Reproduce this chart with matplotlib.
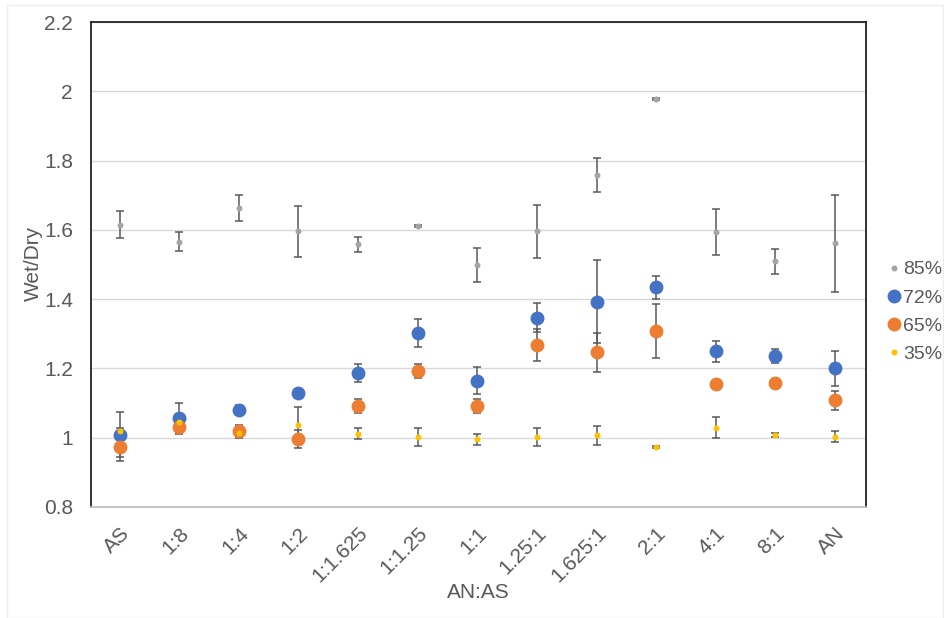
import matplotlib
matplotlib.use("Agg")
import matplotlib.pyplot as plt
from matplotlib.lines import Line2D
from matplotlib.patches import Rectangle
import numpy as np

plt.rcParams['font.family'] = ['Liberation Sans', 'DejaVu Sans']

categories = ["AS", "1:8", "1:4", "1:2", "1:1.625", "1:1.25", "1:1",
              "1.25:1", "1.625:1", "2:1", "4:1", "8:1", "AN"]

rh85 = [1.615, 1.566, 1.663, 1.596, 1.558, 1.610, 1.499, 1.596, 1.759, 1.978, 1.593, 1.509, 1.562]
rh85_err = [0.038, 0.027, 0.037, 0.073, 0.022, 0.003, 0.050, 0.077, 0.049, 0.003, 0.067, 0.037, 0.140]
rh72 = [1.009, 1.057, 1.080, 1.129, 1.187, 1.303, 1.165, 1.347, 1.392, 1.434, 1.250, 1.236, 1.200]
rh72_err = [0.065, 0.044, 0.015, 0.005, 0.025, 0.041, 0.040, 0.041, 0.120, 0.033, 0.030, 0.021, 0.050]
rh65 = [0.972, 1.030, 1.018, 0.996, 1.092, 1.193, 1.092, 1.268, 1.246, 1.308, 1.156, 1.159, 1.108]
rh65_err = [0.040, 0.020, 0.020, 0.026, 0.020, 0.020, 0.020, 0.047, 0.056, 0.078, 0.005, 0.004, 0.027]
rh35 = [1.018, 1.044, 1.013, 1.036, 1.011, 1.003, 0.995, 1.003, 1.007, 0.973, 1.029, 1.008, 1.003]
rh35_err = [0.010, 0.008, 0.008, 0.052, 0.016, 0.026, 0.015, 0.026, 0.028, 0.003, 0.030, 0.005, 0.015]

series = [
    ("85%", rh85, rh85_err, "#A5A5A5", 4.3),
    ("72%", rh72, rh72_err, "#4472C4", 10.0),
    ("65%", rh65, rh65_err, "#ED7D31", 10.0),
    ("35%", rh35, rh35_err, "#FFC000", 4.3),
]

FS = 15

fig = plt.figure(figsize=(9.45, 6.18), dpi=100)
fig.patches.append(Rectangle((7/945, 0.0), 1 - 7/945 - 0.002, 1 - 5/618, transform=fig.transFigure,
                             fill=False, edgecolor="#EEEEEE", linewidth=1.0))
ax = fig.add_axes([91/945, 1 - 507/618, (866 - 91)/945, (507 - 22)/618])

x = np.arange(len(categories))
for name, vals, errs, col, ms in series:
    ax.errorbar(x, vals, yerr=errs, fmt='none', ecolor="#595959", elinewidth=1.1,
                capsize=3, capthick=1.1, zorder=3)
for name, vals, errs, col, ms in series:
    ax.plot(x, vals, linestyle='none', marker='o', markersize=ms, color=col,
            markeredgewidth=0, zorder=4, label=name)

ax.set_xlim(-0.48, 12.52)
ax.set_ylim(0.8, 2.2)
ax.set_yticks(np.arange(0.8, 2.21, 0.2))
ax.set_yticklabels(["0.8", "1", "1.2", "1.4", "1.6", "1.8", "2", "2.2"])
ax.yaxis.grid(True, color="#D9D9D9", linewidth=1.0, zorder=0)
ax.set_axisbelow(True)
ax.set_xticks(x)
ax.set_xticklabels(categories, rotation=45, ha='right', rotation_mode='anchor')
ax.tick_params(axis='both', length=0, labelsize=FS, labelcolor="#595959")
ax.tick_params(axis='x', pad=12)
ax.tick_params(axis='y', pad=13)

for s in ['left', 'right', 'top']:
    ax.spines[s].set_color("#222222")
    ax.spines[s].set_linewidth(1.3)
ax.spines['bottom'].set_color("#BFBFBF")
ax.spines['bottom'].set_linewidth(1.3)

fig.text(33/945, 1 - 263/618, "Wet/Dry", fontsize=FS, color="#595959", ha='center', va='center',
         rotation=90)
fig.text(478/945, 1 - 593/618, "AN:AS", fontsize=FS, color="#595959", ha='center', va='center')

handles = [Line2D([0], [0], linestyle='none', marker='o', markersize=ms, color=col,
                  markeredgewidth=0) for name, vals, errs, col, ms in series]
labels = [s[0] for s in series]
leg = fig.legend(handles, labels, loc='center left', bbox_to_anchor=(877/945, 1 - 312/618),
                 frameon=False, fontsize=14, handlelength=0.7, handletextpad=0.15,
                 labelspacing=0.55, borderpad=0)
for t in leg.get_texts():
    t.set_color("#595959")

fig.savefig("out.png", dpi=100)
